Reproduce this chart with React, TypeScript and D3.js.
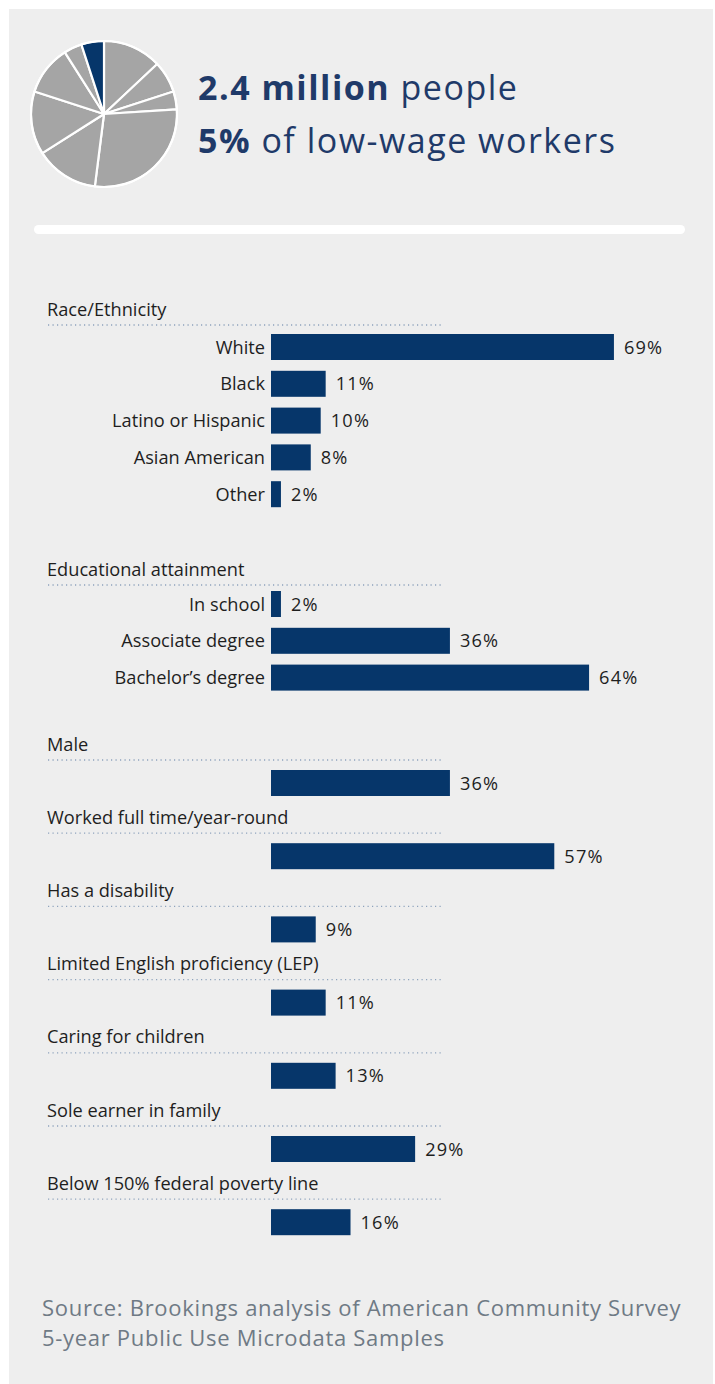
import React from "react";
import * as d3 from "d3";

// ---------- data ----------
const PIE_SHARES = [13, 7, 4, 28, 14, 14, 11, 4, 5];
const PIE_HIGHLIGHT = 8;

const TITLE_BOLD = ["2.4 million", "5%"];
const TITLE_REST = ["people", "of low-wage workers"];

const RACE_CATS = ["White", "Black", "Latino or Hispanic", "Asian American", "Other"];
const RACE_VALUES = [69, 11, 10, 8, 2];

const EDU_CATS = ["In school", "Associate degree", "Bachelor\u2019s degree"];
const EDU_VALUES = [2, 36, 64];

const SINGLE_CATS = [
  "Male",
  "Worked full time/year-round",
  "Has a disability",
  "Limited English proficiency (LEP)",
  "Caring for children",
  "Sole earner in family",
  "Below 150% federal poverty line",
];
const SINGLE_VALUES = [36, 57, 9, 11, 13, 29, 16];

const SOURCE_LINES = [
  "Source: Brookings analysis of American Community Survey",
  "5-year Public Use Microdata Samples",
];

// ---------- layout / style ----------
const W = 715;
const H = 1384;
const NAVY = "#06366a";
const GRAY_SLICE = "#a5a5a5";
const TITLE_COLOR = "#1f3a69";
const TEXT = "#1e1e1e";
const FONT = "'Open Sans', sans-serif";
const LABEL_SIZE = 18.2;

const BAR_X0 = 271;
const x = d3.scaleLinear().domain([0, 100]).range([BAR_X0, BAR_X0 + 497]);
const BAR_H = 26;
const ROW_STEP = 36.8;

type Group = { header: string; cats: string[]; values: number[]; headerY: number; rowOffset: number };

const groups: Group[] = [
  { header: "Race/Ethnicity", cats: RACE_CATS, values: RACE_VALUES, headerY: 309, rowOffset: 38 },
  { header: "Educational attainment", cats: EDU_CATS, values: EDU_VALUES, headerY: 569, rowOffset: 35 },
  ...SINGLE_CATS.map((c, i) => ({
    header: c,
    cats: [""],
    values: [SINGLE_VALUES[i]],
    headerY: 744 + i * 73.2,
    rowOffset: 39,
  })),
];

export default function App() {
  const pie = d3.pie<number>().sort(null).value((d) => d)(PIE_SHARES);
  const arc = d3.arc<d3.PieArcDatum<number>>().innerRadius(0).outerRadius(73);

  return (
    <svg
      width={W}
      height={H}
      style={{ position: "absolute", left: 0, top: 0, display: "block" }}
      fontFamily={FONT}
    >
      <rect x={0} y={0} width={W} height={H} fill="#ffffff" />
      <rect x={9} y={9} width={704} height={H - 9} fill="#eeeeee" />

      {/* pie */}
      <g transform="translate(104,114)">
        {pie.map((p, i) => (
          <path
            key={i}
            d={arc(p) || ""}
            fill={i === PIE_HIGHLIGHT ? NAVY : GRAY_SLICE}
            stroke="#ffffff"
            strokeWidth={2.2}
            strokeLinejoin="round"
          />
        ))}
        <circle r={73} fill="none" stroke="#ffffff" strokeWidth={2} />
      </g>

      {/* title */}
      {TITLE_BOLD.map((b, i) => (
        <text
          key={i}
          x={198}
          y={100 + i * 53}
          fontSize={34}
          fill={TITLE_COLOR}
          letterSpacing={1.5}
        >
          <tspan fontWeight={700}>{b}</tspan>
          <tspan fontWeight={400}>{" " + TITLE_REST[i]}</tspan>
        </text>
      ))}

      {/* separator */}
      <rect x={34} y={225} width={651} height={9} rx={4.5} fill="#ffffff" />

      {/* groups */}
      {groups.map((g, gi) => {
        const firstRow = g.headerY + g.rowOffset;
        const y = d3
          .scaleBand<string>()
          .domain(g.cats.map((c, i) => c + "_" + i))
          .range([firstRow - ROW_STEP / 2, firstRow - ROW_STEP / 2 + ROW_STEP * g.cats.length])
          .paddingInner(0);
        return (
          <g key={gi}>
            <text x={47} y={g.headerY + 6.5} fontSize={LABEL_SIZE} fill={TEXT}>
              {g.header}
            </text>
            <line
              x1={48}
              x2={442}
              y1={g.headerY + 16}
              y2={g.headerY + 16}
              stroke="#8ea3bd"
              strokeWidth={1.3}
              strokeDasharray="1.2 3.3"
            />
            {g.cats.map((c, i) => {
              const key = c + "_" + i;
              const cy = (y(key) as number) + y.bandwidth() / 2;
              const v = g.values[i];
              return (
                <g key={key}>
                  {c && (
                    <text x={265} y={cy + 6.5} fontSize={LABEL_SIZE} fill={TEXT} textAnchor="end">
                      {c}
                    </text>
                  )}
                  <rect x={x(0)} y={cy - BAR_H / 2} width={x(v) - x(0)} height={BAR_H} fill={NAVY} />
                  <text x={x(v) + 10} y={cy + 6.5} fontSize={LABEL_SIZE} fill={TEXT} letterSpacing={1.2}>
                    {v + "%"}
                  </text>
                </g>
              );
            })}
          </g>
        );
      })}

      {/* source */}
      {SOURCE_LINES.map((s, i) => (
        <text key={i} x={42} y={1316 + i * 30} fontSize={22} fill="#6f7a85" letterSpacing={0.7}>
          {s}
        </text>
      ))}
    </svg>
  );
}
